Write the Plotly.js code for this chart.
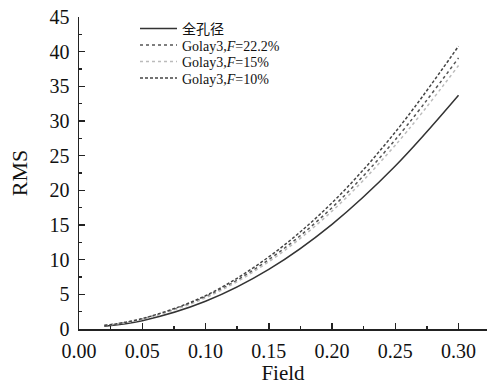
<!DOCTYPE html>
<html>
<head>
<meta charset="utf-8">
<script src="https://cdn.plot.ly/plotly-3.0.1.min.js"></script>
<style>html,body{margin:0;padding:0;background:#fff;}#chart{width:489px;height:385px;}</style>
</head>
<body>
<div id="chart"></div>
<script>
const field = [0.02, 0.05, 0.10, 0.15, 0.20, 0.25, 0.30];
const rmsFull = [0.4, 1.2, 4.0, 8.6, 15.1, 23.5, 33.7];
const rmsF222 = [0.5, 1.45, 4.65, 10.0, 17.5, 27.3, 39.1];
const rmsF15 = [0.5, 1.4, 4.5, 9.7, 17.0, 26.5, 38.0];
const rmsF10 = [0.5, 1.5, 4.8, 10.4, 18.2, 28.4, 40.8];
const names = ['全孔径', 'Golay3,<i>F</i>=22.2%', 'Golay3,<i>F</i>=15%', 'Golay3,<i>F</i>=10%'];

const font = 'Liberation Serif, Times New Roman, Noto Sans CJK SC, serif';
const traces = [
  {x: field, y: rmsFull, name: names[0], legend: 'legend', mode: 'lines', line: {color: '#333', width: 1.5, shape: 'spline'}},
  {x: field, y: rmsF222, name: names[1], legend: 'legend2', mode: 'lines', line: {color: '#555', width: 1.5, dash: 'dot', shape: 'spline'}},
  {x: field, y: rmsF15, name: names[2], legend: 'legend3', mode: 'lines', line: {color: '#bbb', width: 1.5, dash: 'dot', shape: 'spline'}},
  {x: field, y: rmsF10, name: names[3], legend: 'legend4', mode: 'lines', line: {color: '#444', width: 1.5, dash: '3px,2px', shape: 'spline'}}
];

const plotTop = 17, plotH = 312, plotL = 79, plotW = 408;
const rowY = [29, 45.5, 62, 78.5];
function leg(py) {
  return {x: (135 - plotL) / plotW, y: (plotTop + plotH - py) / plotH, xanchor: 'left', yanchor: 'middle',
          bgcolor: 'rgba(0,0,0,0)', itemwidth: 37,
          font: {family: font, size: 14, color: '#111'}};
}

const layout = {
  width: 489, height: 385,
  margin: {l: plotL, r: 489 - plotL - plotW, t: plotTop, b: 385 - plotTop - plotH},
  paper_bgcolor: '#fff', plot_bgcolor: '#fff',
  font: {family: font, size: 20, color: '#111'},
  showlegend: true,
  legend: leg(rowY[0]), legend2: leg(rowY[1]), legend3: leg(rowY[2]), legend4: leg(rowY[3]),
  xaxis: {
    range: [0, 0.3225], showgrid: false, zeroline: false,
    showline: true, linecolor: '#222', linewidth: 1.5,
    ticks: 'inside', ticklen: 6, tickwidth: 1.5, tickcolor: '#222',
    dtick: 0.05, tick0: 0, tickformat: '.2f', ticklabelstandoff: 3,
    tickfont: {family: font, size: 20, color: '#111'},
    minor: {ticks: 'inside', ticklen: 3, dtick: 0.025, tickcolor: '#222', tickwidth: 1.5},
    title: {text: 'Field', font: {family: font, size: 21}, standoff: 1}
  },
  yaxis: {
    range: [0, 45], showgrid: false, zeroline: false,
    showline: true, linecolor: '#222', linewidth: 1.5,
    ticks: 'inside', ticklen: 6, tickwidth: 1.5, tickcolor: '#222',
    dtick: 5, tick0: 0, ticklabelstandoff: 4,
    tickfont: {family: font, size: 20, color: '#111'},
    minor: {ticks: 'inside', ticklen: 3, dtick: 2.5, tickcolor: '#222', tickwidth: 1.5},
    title: {text: 'RMS', font: {family: font, size: 22}, standoff: 16}
  }
};

Plotly.newPlot('chart', traces, layout, {displayModeBar: false, staticPlot: true});
</script>
</body>
</html>
